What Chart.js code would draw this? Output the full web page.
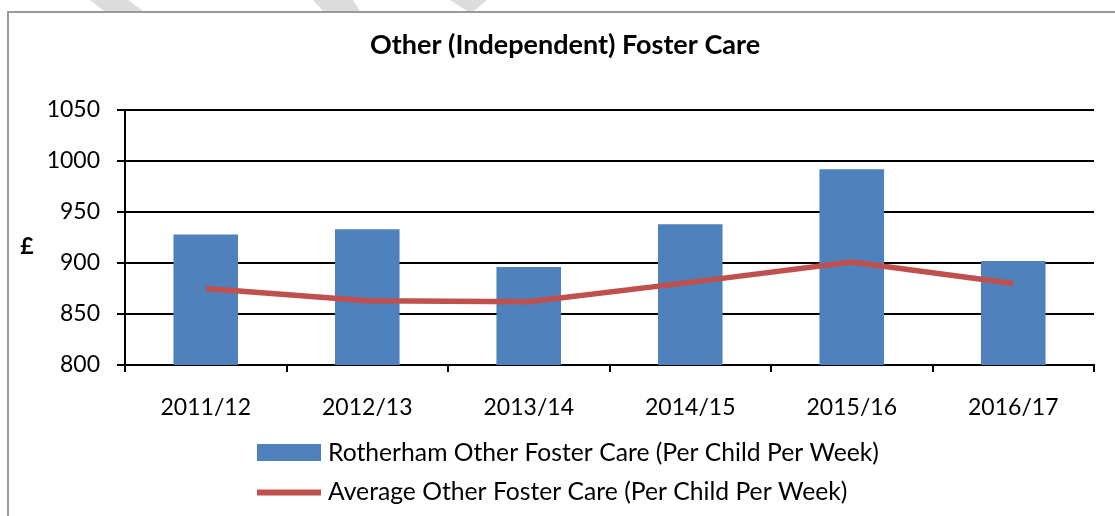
<!DOCTYPE html>
<html>
<head>
<meta charset="utf-8">
<script src="https://cdn.jsdelivr.net/npm/chart.js@4.4.1/dist/chart.umd.min.js"></script>
<style>
  html, body { margin: 0; padding: 0; background: #fff; }
  #wrap { width: 1115px; height: 516px; position: relative; }
</style>
</head>
<body>
<div id="wrap"><canvas id="c" width="1115" height="516"></canvas></div>
<script>
const categories = ['2011/12', '2012/13', '2013/14', '2014/15', '2015/16', '2016/17'];
const rotherhamValues = [928, 933, 896, 938, 992, 902];
const averageValues = [875, 863, 862, 881, 901, 880];
const seriesNames = ['Rotherham Other Foster Care (Per Child Per Week)', 'Average Other Foster Care (Per Child Per Week)'];
const chartTitle = 'Other (Independent) Foster Care';
const yAxisTitle = '£';
const yMin = 800, yMax = 1050, yStep = 50;

const FONT = 'Lato, "Open Sans", sans-serif';
const BLUE = '#4F81BD';
const RED = '#C0504D';

const decoPlugin = {
  id: 'deco',
  beforeDraw(chart) {
    const ctx = chart.ctx;
    ctx.save();
    ctx.fillStyle = '#fff';
    ctx.fillRect(0, 0, chart.width, chart.height);
    // faint watermark shapes at top
    ctx.fillStyle = '#dcdcdc';
    const polys = [
      [[90,0],[128,0],[143,11],[104,11]],
      [[313,0],[353,0],[360,11],[323,11]],
      [[450,0],[487,0],[474,11],[467,11]]
    ];
    polys.forEach(p => {
      ctx.beginPath();
      ctx.moveTo(p[0][0], p[0][1]);
      for (let i = 1; i < p.length; i++) ctx.lineTo(p[i][0], p[i][1]);
      ctx.closePath();
      ctx.fill();
    });
    // outer border
    ctx.strokeStyle = '#999';
    ctx.lineWidth = 2;
    ctx.beginPath();
    ctx.moveTo(8, chart.height + 5);
    ctx.lineTo(8, 12);
    ctx.lineTo(chart.width + 5, 12);
    ctx.stroke();
    ctx.restore();
  },
  afterDraw(chart) {
    const ctx = chart.ctx;
    ctx.save();
    // y-axis title
    ctx.fillStyle = '#000';
    ctx.font = 'bold 23px ' + FONT;
    ctx.textAlign = 'center';
    ctx.textBaseline = 'middle';
    ctx.fillText(yAxisTitle, 27, 247);
    // legend
    const ds = chart.data.datasets;
    ctx.font = '24.7px ' + FONT;
    ctx.textAlign = 'left';
    ctx.fillStyle = ds[0].backgroundColor;
    ctx.fillRect(257, 444, 64, 17);
    ctx.strokeStyle = ds[1].borderColor;
    ctx.lineWidth = 6;
    ctx.beginPath();
    ctx.moveTo(257, 492.5);
    ctx.lineTo(321, 492.5);
    ctx.stroke();
    ctx.fillStyle = '#000';
    ctx.fillText(ds[0].label, 328, 453);
    ctx.fillText(ds[1].label, 328, 492);
    ctx.restore();
  }
};

new Chart(document.getElementById('c'), {
  type: 'bar',
  data: {
    labels: categories,
    datasets: [
      {
        type: 'bar',
        label: seriesNames[0],
        data: rotherhamValues,
        backgroundColor: BLUE,
        borderWidth: 0,
        barPercentage: 0.4,
        categoryPercentage: 1.0,
        order: 1
      },
      {
        type: 'line',
        label: seriesNames[1],
        data: averageValues,
        borderColor: RED,
        backgroundColor: RED,
        borderWidth: 5.5,
        pointRadius: 0,
        pointHoverRadius: 0,
        tension: 0,
        fill: false,
        borderCapStyle: 'butt',
        order: 0
      }
    ]
  },
  options: {
    responsive: false,
    animation: false,
    devicePixelRatio: 1,
    layout: { padding: { left: 36, right: 21, top: 0, bottom: 0 } },
    plugins: {
      legend: { display: false },
      tooltip: { enabled: false },
      title: {
        display: true,
        text: chartTitle,
        color: '#000',
        font: { family: FONT, size: 27, weight: 'bold', lineHeight: 1.2 },
        padding: { top: 28.8, bottom: 48.8 }
      }
    },
    scales: {
      x: {
        offset: true,
        grid: {
          offset: true,
          drawOnChartArea: false,
          drawTicks: true,
          tickLength: 7,
          color: '#000',
          lineWidth: 2
        },
        border: { display: true, color: '#000', width: 2 },
        ticks: { color: '#000', font: { family: FONT, size: 23 }, padding: 21.5, maxRotation: 0 },
        afterFit(scale) { scale.height = 151; }
      },
      y: {
        min: yMin,
        max: yMax,
        ticks: {
          stepSize: yStep,
          color: '#000',
          font: { family: FONT, size: 23 },
          padding: 17,
          callback: (v) => String(v)
        },
        grid: { color: '#000', lineWidth: 2, tickLength: 8, drawTicks: true },
        border: { display: true, color: '#000', width: 2 },
        afterFit(scale) { scale.width = 89; }
      }
    }
  },
  plugins: [decoPlugin]
});
</script>
</body>
</html>
